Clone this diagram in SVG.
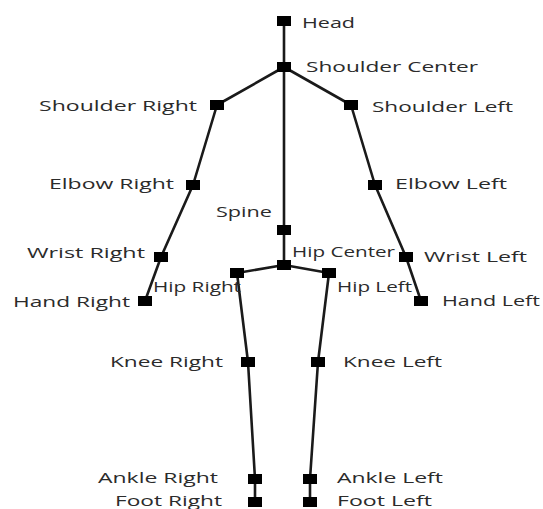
<svg xmlns="http://www.w3.org/2000/svg" width="543" height="509" viewBox="0 0 543 509">
<style>
.bone{stroke:#1a1a1a;stroke-width:2.6;fill:none;stroke-linecap:round;stroke-linejoin:round}
.j{fill:#000}
text{font-family:"Open Sans","DejaVu Sans",sans-serif;font-size:15px;fill:#2b2b2b}
</style>
<rect width="543" height="509" fill="#fff"/>
<g id="connectors">
<polyline class="bone" points="284,21 284,67 284,230 284,265"/>
<polyline class="bone" points="284,67 217,105 193,185 161,257 145,301"/>
<polyline class="bone" points="284,67 351,105 375,185 406,257 421,301"/>
<polyline class="bone" points="284,265 237,273 248,362 255,479 255,502"/>
<polyline class="bone" points="284,265 329,273 318,362 310,479 310,502"/>
</g>
<g id="head"><rect class="j" x="277" y="16" width="14" height="10"/><text x="302" y="28" textLength="53" lengthAdjust="spacingAndGlyphs">Head</text></g>
<g id="shoulder-center"><rect class="j" x="277" y="62" width="14" height="10"/><text x="306" y="72" textLength="172" lengthAdjust="spacingAndGlyphs">Shoulder Center</text></g>
<g id="shoulder-right"><rect class="j" x="210" y="100" width="14" height="10"/><text x="39" y="111" textLength="158" lengthAdjust="spacingAndGlyphs">Shoulder Right</text></g>
<g id="shoulder-left"><rect class="j" x="344" y="100" width="14" height="10"/><text x="372" y="112" textLength="141" lengthAdjust="spacingAndGlyphs">Shoulder Left</text></g>
<g id="elbow-right"><rect class="j" x="186" y="180" width="14" height="10"/><text x="49" y="189" textLength="125" lengthAdjust="spacingAndGlyphs">Elbow Right</text></g>
<g id="elbow-left"><rect class="j" x="368" y="180" width="14" height="10"/><text x="395" y="189" textLength="112" lengthAdjust="spacingAndGlyphs">Elbow Left</text></g>
<g id="spine"><rect class="j" x="277" y="225" width="14" height="10"/><text x="216" y="217" textLength="56" lengthAdjust="spacingAndGlyphs">Spine</text></g>
<g id="wrist-right"><rect class="j" x="154" y="252" width="14" height="10"/><text x="27" y="258" textLength="118" lengthAdjust="spacingAndGlyphs">Wrist Right</text></g>
<g id="wrist-left"><rect class="j" x="399" y="252" width="14" height="10"/><text x="424" y="262" textLength="103" lengthAdjust="spacingAndGlyphs">Wrist Left</text></g>
<g id="hip-center"><rect class="j" x="277" y="260" width="14" height="10"/><text x="292" y="257" textLength="103" lengthAdjust="spacingAndGlyphs">Hip Center</text></g>
<g id="hip-right"><rect class="j" x="230" y="268" width="14" height="10"/><text x="153" y="292" textLength="88" lengthAdjust="spacingAndGlyphs">Hip Right</text></g>
<g id="hip-left"><rect class="j" x="322" y="268" width="14" height="10"/><text x="337" y="292" textLength="75" lengthAdjust="spacingAndGlyphs">Hip Left</text></g>
<g id="hand-right"><rect class="j" x="138" y="296" width="14" height="10"/><text x="13" y="307" textLength="117" lengthAdjust="spacingAndGlyphs">Hand Right</text></g>
<g id="hand-left"><rect class="j" x="414" y="296" width="14" height="10"/><text x="442" y="306" textLength="98" lengthAdjust="spacingAndGlyphs">Hand Left</text></g>
<g id="knee-right"><rect class="j" x="241" y="357" width="14" height="10"/><text x="110" y="367" textLength="113" lengthAdjust="spacingAndGlyphs">Knee Right</text></g>
<g id="knee-left"><rect class="j" x="311" y="357" width="14" height="10"/><text x="343" y="367" textLength="99" lengthAdjust="spacingAndGlyphs">Knee Left</text></g>
<g id="ankle-right"><rect class="j" x="248" y="474" width="14" height="10"/><text x="98" y="483" textLength="120" lengthAdjust="spacingAndGlyphs">Ankle Right</text></g>
<g id="ankle-left"><rect class="j" x="303" y="474" width="14" height="10"/><text x="337" y="483" textLength="106" lengthAdjust="spacingAndGlyphs">Ankle Left</text></g>
<g id="foot-right"><rect class="j" x="248" y="497" width="14" height="10"/><text x="115" y="506" textLength="107" lengthAdjust="spacingAndGlyphs">Foot Right</text></g>
<g id="foot-left"><rect class="j" x="303" y="497" width="14" height="10"/><text x="337" y="506" textLength="95" lengthAdjust="spacingAndGlyphs">Foot Left</text></g>
</svg>
